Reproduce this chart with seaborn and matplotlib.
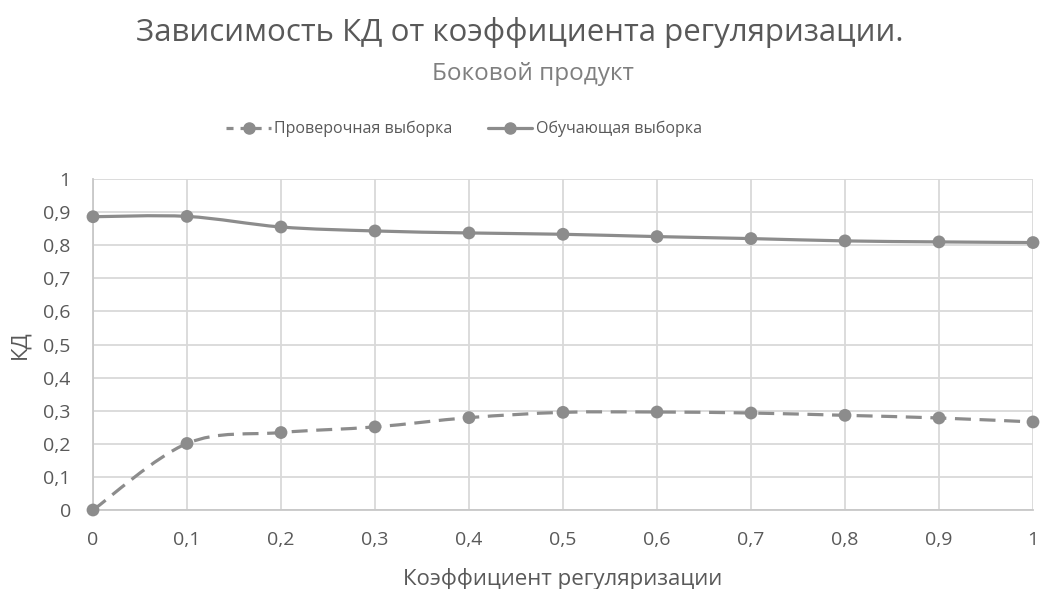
import numpy as np
import pandas as pd
import seaborn as sns
import matplotlib
matplotlib.use("Agg")
import matplotlib.pyplot as plt
from matplotlib.path import Path
from matplotlib.patches import PathPatch
from matplotlib.lines import Line2D
from matplotlib.ticker import FuncFormatter

# Regularisation coefficient and determination coefficient (КД) per sample
reg_coef = [0.0, 0.1, 0.2, 0.3, 0.4, 0.5, 0.6, 0.7, 0.8, 0.9, 1.0]
kd_validation = [0.0, 0.201, 0.234, 0.251, 0.279, 0.295, 0.296, 0.293, 0.286, 0.278, 0.266]
kd_training = [0.886, 0.887, 0.855, 0.843, 0.837, 0.833, 0.826, 0.820, 0.813, 0.810, 0.808]

series_names = ["Проверочная выборка", "Обучающая выборка"]
x_ticks = [0, 0.1, 0.2, 0.3, 0.4, 0.5, 0.6, 0.7, 0.8, 0.9, 1.0]
y_ticks = [0, 0.1, 0.2, 0.3, 0.4, 0.5, 0.6, 0.7, 0.8, 0.9, 1.0]

df = pd.DataFrame({
    "x": reg_coef * 2,
    "kd": kd_validation + kd_training,
    "series": [series_names[0]] * len(reg_coef) + [series_names[1]] * len(reg_coef),
})

sns.set_theme(style="white")
plt.rcParams["font.family"] = ["Open Sans", "DejaVu Sans"]

LINE = "#8c8c8c"
TEXT = "#595959"
GRID = "#d9d9d9"


def smooth_path(xs, ys):
    """Catmull-Rom style Bezier path through the points (spreadsheet smoothing)."""
    pts = np.column_stack([xs, ys]).astype(float)
    n = len(pts)
    verts = [pts[0]]
    codes = [Path.MOVETO]
    for i in range(n - 1):
        p0 = pts[i - 1] if i > 0 else pts[i]
        p1 = pts[i]
        p2 = pts[i + 1]
        p3 = pts[i + 2] if i + 2 < n else pts[i + 1]
        c1 = p1 + (p2 - p0) / 6.0
        c2 = p2 - (p3 - p1) / 6.0
        verts += [c1, c2, p2]
        codes += [Path.CURVE4] * 3
    return Path(verts, codes)


fig = plt.figure(figsize=(10.4, 5.89), dpi=100)
ax = fig.add_axes([93 / 1040, 1 - 510 / 589, (1033 - 93) / 1040, (510 - 179) / 589])

styles = {
    series_names[0]: dict(linestyle=(0, (5, 2.7))),
    series_names[1]: dict(linestyle="-"),
}

for name in series_names:
    sub = df[df["series"] == name]
    patch = PathPatch(smooth_path(sub["x"].values, sub["kd"].values),
                      facecolor="none", edgecolor=LINE, lw=2.3,
                      capstyle="butt", zorder=3, **styles[name])
    ax.add_patch(patch)

sns.scatterplot(data=df, x="x", y="kd", hue="series",
                palette=[LINE, LINE], s=85, edgecolor="none",
                legend=False, ax=ax, zorder=4, clip_on=False)

ax.set_xlim(0, 1)
ax.set_ylim(0, 1)
ax.set_xticks(x_ticks)
ax.set_yticks(y_ticks)
fmt = FuncFormatter(lambda v, p: ("%g" % round(v, 1)).replace(".", ","))
ax.xaxis.set_major_formatter(fmt)
ax.yaxis.set_major_formatter(fmt)
ax.grid(True, color=GRID, lw=1.3)
ax.set_axisbelow(True)
for s in ["top", "right"]:
    ax.spines[s].set_visible(False)
for s in ["left", "bottom"]:
    ax.spines[s].set_color("#c8c8c8")
    ax.spines[s].set_linewidth(1.3)
ax.tick_params(axis="both", length=0, labelsize=14, colors=TEXT)
ax.tick_params(axis="x", pad=15)
ax.tick_params(axis="y", pad=16)

ax.set_xlabel("Коэффициент регуляризации", fontsize=16, color=TEXT, labelpad=14)
ax.set_ylabel("КД", fontsize=16, color=TEXT, labelpad=9)

fig.text(0.5, 1 - 33 / 589, "Зависимость КД от коэффициента регуляризации.",
         ha="center", va="center", fontsize=22.5, color=TEXT)
fig.text(0.512, 1 - 74 / 589, "Боковой продукт",
         ha="center", va="center", fontsize=17.5, color="#7f7f7f")

handles = [
    Line2D([], [], color=LINE, lw=2.3, linestyle=(0, (2.2, 2.2)), marker="o", markersize=8),
    Line2D([], [], color=LINE, lw=2.3, linestyle="-", marker="o", markersize=8),
]
fig.legend(handles, series_names, loc="center", bbox_to_anchor=(464 / 1040, 1 - 129 / 589),
           ncol=2, frameon=False, fontsize=11.5, labelcolor=TEXT,
           handlelength=2.8, handletextpad=0.2, columnspacing=2.2)

fig.savefig("out.png", dpi=100)
